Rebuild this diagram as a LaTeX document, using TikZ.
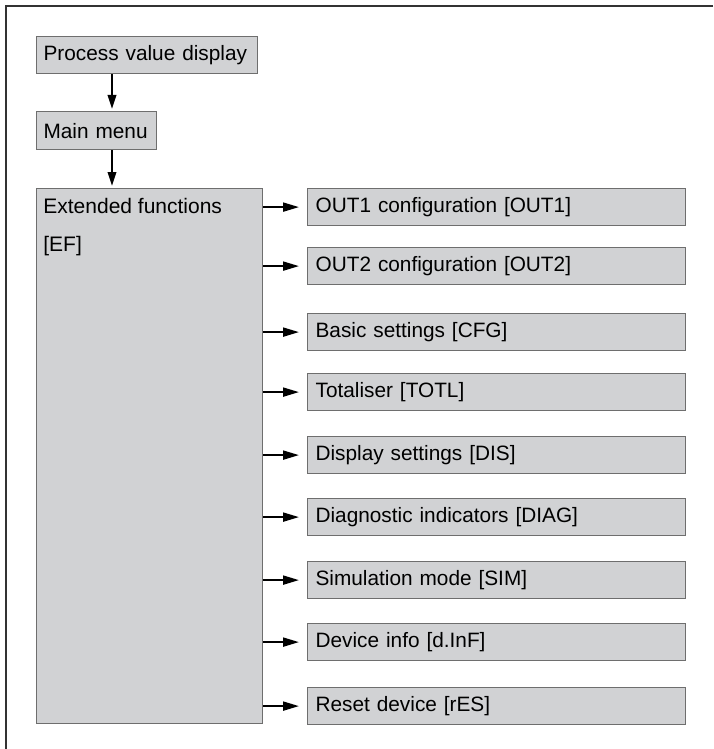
\documentclass[tikz,border=0pt]{standalone}
\usepackage{fontspec}
\setmainfont{Liberation Sans}
\usepackage{tikz}
\usetikzlibrary{arrows.meta,calc,positioning}
\definecolor{boxgray}{HTML}{D1D2D4}
\definecolor{edgegray}{HTML}{6E6E6E}
\definecolor{framegray}{HTML}{333333}
\tikzset{
  box/.style={draw=edgegray, line width=0.6pt, fill=boxgray, anchor=north west,
    inner xsep=3.5pt, inner ysep=0pt, align=left, font=\fontsize{10.4}{15.5}\selectfont},
  subbox/.style={box, inner xsep=4pt, text width=181pt, minimum height=18.5pt},
  arrow/.style={-{Triangle[length=8pt,width=4.5pt]}, line width=1pt, shorten >=4pt},
  downarrow/.style={-{Triangle[length=7pt,width=4.2pt]}, line width=1pt, shorten >=1pt},
}

\begin{document}
\begin{tikzpicture}[x=0.5pt, y=-0.5pt]
\useasboundingbox (0,0) rectangle (713,749);

% --- frame (top and left edge only) ---
\draw[framegray, line width=1pt] (713,6) -- (6,6) -- (6,749);

% --- left column ---
\node[box, text width=103.5pt, minimum height=18.5pt] (PVD) at (36,36) {Process value display};
\node[box, text width=53pt, minimum height=19pt] (MM) at (36,111) {Main menu};
\node[box, minimum width=113pt, minimum height=267.5pt] (EF) at (36,188) {};
\node[anchor=north west, align=left, inner xsep=3.5pt, inner ysep=0pt,
  font=\fontsize{10.5}{18.9}\selectfont] (EFtxt) at ([yshift=-5pt]EF.north west)
  {Extended functions\\{}[EF]};

\draw[downarrow] ([xshift=38pt]PVD.south west) -- ([xshift=38pt]MM.north west);
\draw[downarrow] ([xshift=38pt]MM.south west) -- ([xshift=38pt]EF.north west);

% --- sub menus of [EF] ---
\foreach \name/\y/\txt in {out1/188/{OUT1 configuration [OUT1]},
    out2/247/{OUT2 configuration [OUT2]},
    cfg/313/{Basic settings [CFG]},
    totl/373/{Totaliser [TOTL]},
    dis/436/{Display settings [DIS]},
    diag/498/{Diagnostic indicators [DIAG]},
    sim/561/{Simulation mode [SIM]},
    dinf/623/{Device info [d.InF]},
    res/687/{Reset device [rES]}}{
  \node[subbox] (\name) at (307,\y) {\txt};
  \draw[arrow] (EF.east |- \name.west) -- (\name.west);
}

\end{tikzpicture}
\end{document}
